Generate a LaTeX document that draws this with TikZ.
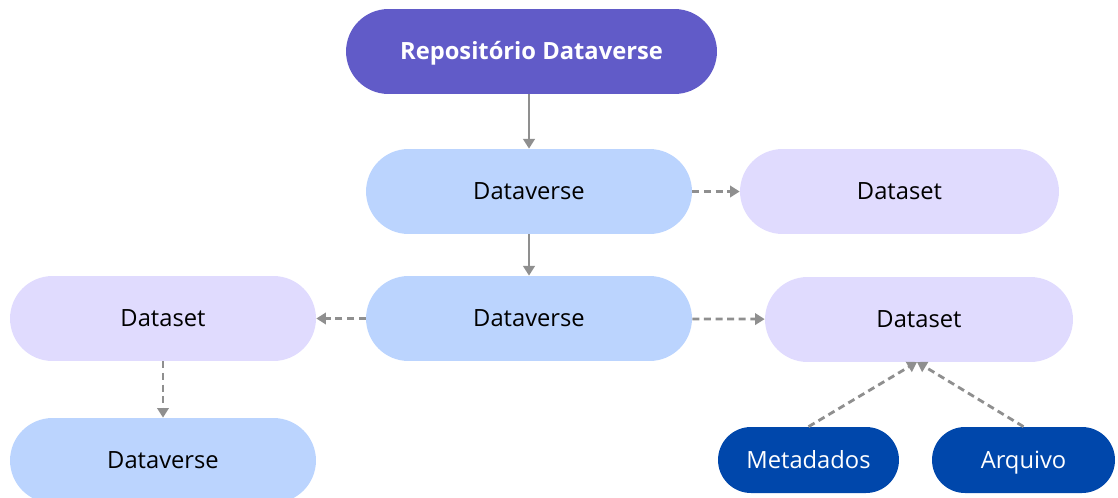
\documentclass[tikz,border=0pt]{standalone}
\usepackage{fontspec}
\setmainfont{Open Sans}
\usepackage{xcolor}
\usetikzlibrary{positioning,arrows.meta}
\definecolor{repoviolet}{HTML}{615BC8}
\definecolor{dvblue}{HTML}{BBD4FE}
\definecolor{dslilac}{HTML}{E0DBFE}
\definecolor{itemblue}{HTML}{0047AB}
\definecolor{linkgray}{HTML}{8F8F8F}

\begin{document}
\begin{tikzpicture}[x=0.02cm, y=-0.02cm,
  every node/.style={font=\fontsize{13.5}{16}\selectfont, text height=10pt, text depth=0.4pt},
  pill/.style={rounded corners=0.85cm, minimum height=1.7cm, inner sep=0pt},
  smallpill/.style={rounded corners=0.66cm, minimum height=1.32cm, inner sep=0pt},
  link/.style={-{Triangle[length=5.5pt,width=6.5pt]}, linkgray, line width=1.6pt},
  dlink/.style={link, dash pattern=on 4pt off 2.6pt}]
\useasboundingbox (0,0) rectangle (1118,497);

% Repository
\node[pill, fill=repoviolet, text=white, minimum width=7.42cm, font=\fontsize{13.5}{16}\selectfont\bfseries] (REPO) at (531.5,51.5) {Repositório Dataverse};

% Dataverses
\node[pill, fill=dvblue, minimum width=6.52cm] (DV1) at (529,191.5) {Dataverse};
\node[pill, fill=dvblue, minimum width=6.52cm] (DV2) at (529,318.5) {Dataverse};
\node[pill, fill=dvblue, minimum width=6.12cm] (DV3) at (163,460.5) {Dataverse};

% Datasets
\node[pill, fill=dslilac, minimum width=6.38cm] (DS1) at (899.5,191.5) {Dataset};
\node[pill, fill=dslilac, minimum width=6.12cm] (DS2) at (163,318.5) {Dataset};
\node[pill, fill=dslilac, minimum width=6.16cm] (DS3) at (919,319.5) {Dataset};

% Contents of a dataset
\node[smallpill, fill=itemblue, text=white, minimum width=3.62cm] (META) at (808.5,460) {Metadados};
\node[smallpill, fill=itemblue, text=white, minimum width=3.66cm] (FILE) at (1023.5,460) {Arquivo};

% Arrows
\draw[link] (REPO.south -| DV1.north) -- (DV1);
\draw[link] (DV1) -- (DV2);
\draw[dlink] (DV1) -- (DS1);
\draw[dlink] (DV2) -- (DS2);
\draw[dlink] (DV2) -- (DS3);
\draw[dlink] (DS2) -- (DV3);
\coordinate (DSIN) at (917,362);
\draw[dlink] (META.north) -- (DSIN);
\draw[dlink] (FILE.north) -- (DSIN);
\end{tikzpicture}
\end{document}
